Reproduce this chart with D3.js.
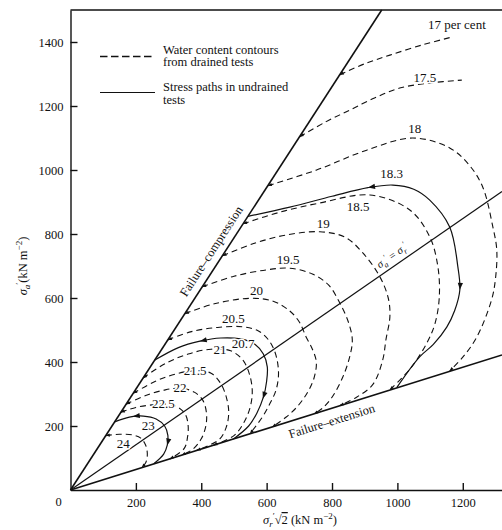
<!DOCTYPE html>
<html>
<head>
<meta charset="utf-8">
<script src="https://cdn.jsdelivr.net/npm/d3@7"></script>
<style>
  body { margin: 0; background: #fff; }
  text { font-family: "Liberation Serif", "Times New Roman", serif; fill: #111; }
</style>
</head>
<body>
<div id="chart"></div>
<script>
// all values in kN/m2 : [sigma_r' * sqrt2 , sigma_a']
const xTicks = [200, 400, 600, 800, 1000, 1200];
const yTicks = [200, 400, 600, 800, 1000, 1200, 1400];

const failureCompression = [[0, 0], [952, 1500]];
const failureExtension = [[0, 0], [1320, 422]];
const isotropicLine = [[0, 0], [1320, 933]];

// water content contours from drained tests (dashed)
const c17 = [[824,1298],[900,1332],[977,1359],[1080,1392],[1169,1416]];
const c175 = [[701,1104],[780,1150],[854,1187],[930,1225],[1007,1256],[1100,1272],[1197,1281]];
const c18 = [[604,951],[753,1000],[906,1062],[1047,1100],[1160,1069],[1220,1015],[1261,947],[1292,822],[1304,750],[1300,660],[1288,594],[1243,478],[1200,415],[1160,372]];
const c185 = [[528,832],[640,868],[763,897],[916,922],[1038,875],[1099,791],[1124,697],[1128,600],[1115,520],[1090,459],[1040,380],[977,313]];
const c19 = [[465,732],[560,770],[660,797],[763,807],[840,790],[895,740],[946,667],[972,600],[977,541],[965,470],[955,406],[925,330],[875,290],[824,264]];
const c195 = [[403,635],[500,668],[600,688],[671,693],[740,675],[790,640],[824,584],[850,525],[862,470],[855,420],[833,353],[800,290],[770,255],[745,238]];
const c20 = [[350,551],[440,582],[549,599],[620,590],[670,560],[700,525],[720,480],[740,440],[752,400],[745,350],[725,305],[695,262],[660,228],[617,197]];
const c205 = [[298,469],[370,495],[450,508],[528,510],[575,497],[605,470],[624,435],[634,395],[636,354],[628,310],[610,270],[585,225],[549,176]];
const c21 = [[222,350],[290,395],[360,425],[430,440],[490,435],[528,405],[548,360],[556,310],[550,260],[530,210],[500,170],[437,140]];
const c215 = [[192,302],[260,340],[320,362],[380,373],[430,365],[460,332],[478,285],[484,240],[476,195],[455,158],[386,124]];
const c22 = [[170,268],[230,295],[290,313],[340,318],[380,305],[405,280],[416,240],[414,200],[400,160],[375,128],[340,109]];
const c225 = [[154,243],[200,258],[250,266],[300,268],[330,258],[352,235],[360,200],[358,165],[348,130],[304,97]];
const c24 = [[108,170],[150,174],[190,172],[215,162],[230,140],[235,110],[230,85],[218,70]];

// stress paths in undrained tests (solid)
const s183 = [[543,855],[671,884],[800,918],[910,945],[986,953],[1050,940],[1099,906],[1160,822],[1185,697],[1191,625],[1175,560],[1151,509],[1110,455],[1068,416],[998,320]];
const s207 = [[258,406],[330,445],[396,465],[460,475],[520,472],[565,455],[590,425],[602,385],[600,340],[590,290],[570,240],[545,200],[498,159]];
const s23 = [[135,213],[180,228],[223,231],[262,222],[288,200],[298,170],[296,140],[285,112],[255,82]];

// arrow positions on the stress paths: [x, y, direction]
const arrows183 = [[910,945,-1],[1191,625,1]];
const arrows207 = [[396,465,-1],[589,285,1]];
const arrows23 = [[191,229,-1],[292,141,1]];

const contourNames = ["17 per cent","17.5","18","18.5","19","19.5","20","20.5","21","21.5","22","22.5","24"];
const contourLabelAt = [[1182,1456],[1084,1288],[1053,1130],[880,885],[773,833],[666,719],[569,625],[498,537],[457,438],[381,373],[335,321],[284,271],[161,146]];
const pathNames = ["18.3","20.7","23"];
const pathLabelAt = [[982,990],[528,458],[238,203]];

const width = 502, height = 530;
const serif = '"Liberation Serif", "Times New Roman", serif';
const x = d3.scaleLinear().domain([0, 1320]).range([70.5, 502]);
const y = d3.scaleLinear().domain([0, 1500]).range([490, 10]);

const svg = d3.select("#chart").append("svg")
  .attr("width", width).attr("height", height);

// axes (ticks point inwards)
const xAxis = svg.append("g")
  .attr("transform", "translate(0," + y(0) + ")")
  .call(d3.axisBottom(x).tickValues(xTicks).tickFormat(d3.format("d"))
    .tickSize(-7).tickSizeOuter(0).tickPadding(8));
const yAxis = svg.append("g")
  .attr("transform", "translate(" + x(0) + ",0)")
  .call(d3.axisLeft(y).tickValues(yTicks).tickFormat(d3.format("d"))
    .tickSize(-7).tickSizeOuter(0).tickPadding(7));
[xAxis, yAxis].forEach(function (g) {
  g.attr("font-family", null).attr("font-size", null);
  g.selectAll("path,line").attr("stroke", "#111").attr("stroke-width", 1.4);
  g.selectAll("text").style("font-family", serif).style("font-size", "12.5px").attr("fill", "#111");
});
svg.append("line")
  .attr("x1", x(0)).attr("x2", x(1320)).attr("y1", y(1500)).attr("y2", y(1500))
  .attr("stroke", "#111").attr("stroke-width", 1.4);
svg.append("text").attr("x", x(0) - 12).attr("y", y(0) + 16)
  .attr("font-size", 12.5).attr("text-anchor", "middle").text("0");

const line = d3.line().x(d => x(d[0])).y(d => y(d[1]));
const curve = d3.line().x(d => x(d[0])).y(d => y(d[1])).curve(d3.curveCatmullRom.alpha(0.5));

// failure lines and isotropic line
[failureCompression, failureExtension].forEach(function (d) {
  svg.append("path").attr("d", line(d)).attr("fill", "none")
    .attr("stroke", "#111").attr("stroke-width", 1.6);
});
svg.append("path").attr("d", line(isotropicLine)).attr("fill", "none")
  .attr("stroke", "#111").attr("stroke-width", 1.2);

function arrowHead(px, py, ang, len, half) {
  svg.append("path")
    .attr("d", "M0,0L" + (-len) + "," + (-half) + "L" + (-len) + "," + half + "Z")
    .attr("transform", "translate(" + px + "," + py + ") rotate(" + ang + ")")
    .attr("fill", "#111");
}

function tangentAt(node, l) {
  const L = node.getTotalLength();
  const a = node.getPointAtLength(Math.max(0, l - 1));
  const b = node.getPointAtLength(Math.min(L, l + 1));
  return Math.atan2(b.y - a.y, b.x - a.x) * 180 / Math.PI;
}

// dashed water content contours
const contours = [c17, c175, c18, c185, c19, c195, c20, c205, c21, c215, c22, c225, c24];
const contourReachesExtension = [false, false, true, true, true, true, true, true, true, true, true, true, true];
contours.forEach(function (pts, i) {
  const p = svg.append("path").attr("d", curve(pts)).attr("fill", "none")
    .attr("stroke", "#111").attr("stroke-width", 1.1).attr("stroke-dasharray", "6,4");
  const node = p.node(), L = node.getTotalLength();
  const s = node.getPointAtLength(0);
  arrowHead(s.x, s.y, tangentAt(node, 2) + 180, 4, 1.6);
  if (contourReachesExtension[i]) {
    const e = node.getPointAtLength(L);
    arrowHead(e.x, e.y, tangentAt(node, L - 2), 4, 1.6);
  }
});

// solid stress paths with arrows
const paths = [s183, s207, s23];
const pathArrows = [arrows183, arrows207, arrows23];
paths.forEach(function (pts, i) {
  const p = svg.append("path").attr("d", curve(pts)).attr("fill", "none")
    .attr("stroke", "#111").attr("stroke-width", 1.2);
  const node = p.node(), L = node.getTotalLength();
  pathArrows[i].forEach(function (a) {
    const tx = x(a[0]), ty = y(a[1]);
    let best = 0, bd = 1e9;
    for (let l = 0; l <= L; l += 0.5) {
      const q = node.getPointAtLength(l);
      const dd = (q.x - tx) * (q.x - tx) + (q.y - ty) * (q.y - ty);
      if (dd < bd) { bd = dd; best = l; }
    }
    const q = node.getPointAtLength(best);
    arrowHead(q.x, q.y, tangentAt(node, best) + (a[2] < 0 ? 180 : 0), 7, 2.6);
  });
});

// contour labels
function label(t, d) {
  svg.append("text").attr("x", x(d[0])).attr("y", y(d[1]))
    .attr("dy", "0.35em").attr("text-anchor", "middle").attr("font-size", 13)
    .attr("stroke", "#fff").attr("stroke-width", 3).attr("paint-order", "stroke")
    .text(t);
}
contourNames.forEach((t, i) => label(t, contourLabelAt[i]));
pathNames.forEach((t, i) => label(t, pathLabelAt[i]));

// text along the lines
function alongLine(seg, at, offset, content, size) {
  const p0 = [x(seg[0][0]), y(seg[0][1])], p1 = [x(seg[1][0]), y(seg[1][1])];
  const ang = Math.atan2(p1[1] - p0[1], p1[0] - p0[0]);
  const px = x(at), py = y(at * (seg[1][1] / seg[1][0]));
  const nx = Math.sin(ang) * offset, ny = -Math.cos(ang) * offset;
  const t = svg.append("text")
    .attr("transform", "translate(" + (px + nx) + "," + (py + ny) + ") rotate(" + (ang * 180 / Math.PI) + ")")
    .attr("text-anchor", "middle").attr("dy", "0.35em").attr("font-size", size);
  content(t);
}
alongLine(failureCompression, 461, 12, t => t.text("Failure\u2013compression"), 12.5);
alongLine(failureExtension, 788, -12, t => t.text("Failure\u2013extension"), 12.5);
alongLine(isotropicLine, 1000, 10, function (t) {
  t.attr("font-style", "italic");
  t.append("tspan").text("\u03c3");
  t.append("tspan").attr("font-size", 8).attr("dy", 3).text("a");
  t.append("tspan").attr("font-size", 8).attr("dy", -7).text("\u2032");
  t.append("tspan").attr("dy", 4).text(" = \u03c3");
  t.append("tspan").attr("font-size", 8).attr("dy", 3).text("r");
  t.append("tspan").attr("font-size", 8).attr("dy", -7).text("\u2032");
}, 11);

// legend
svg.append("line").attr("x1", 100).attr("x2", 155).attr("y1", 56.5).attr("y2", 56.5)
  .attr("stroke", "#111").attr("stroke-width", 1.4).attr("stroke-dasharray", "7.5,3.5");
svg.append("line").attr("x1", 100).attr("x2", 155).attr("y1", 92.5).attr("y2", 92.5)
  .attr("stroke", "#111").attr("stroke-width", 1);
[["Water content contours", 53.5], ["from drained tests", 66], ["Stress paths in undrained", 91], ["tests", 104]]
  .forEach(function (d) {
    svg.append("text").attr("x", 163).attr("y", d[1]).attr("font-size", 12.5).text(d[0]);
  });

// axis titles
const xt = svg.append("text").attr("x", 300).attr("y", 524).attr("text-anchor", "middle").attr("font-size", 12.5);
xt.append("tspan").attr("font-style", "italic").text("\u03c3");
xt.append("tspan").attr("font-size", 9).attr("dy", 3).attr("font-style", "italic").text("r");
xt.append("tspan").attr("font-size", 9).attr("dy", -8).text("\u2032");
xt.append("tspan").attr("dy", 5).text("\u221a");
xt.append("tspan").attr("text-decoration", "overline").text("2");
xt.append("tspan").text("  (kN m");
xt.append("tspan").attr("font-size", 9).attr("dy", -5).text("\u22122");
xt.append("tspan").attr("dy", 5).text(")");

const yt = svg.append("text").attr("transform", "translate(27,266) rotate(-90)")
  .attr("text-anchor", "middle").attr("font-size", 12.5);
yt.append("tspan").attr("font-style", "italic").text("\u03c3");
yt.append("tspan").attr("font-size", 9).attr("dy", 3).attr("font-style", "italic").text("a");
yt.append("tspan").attr("font-size", 9).attr("dy", -8).text("\u2032");
yt.append("tspan").attr("dy", 5).text("(kN m");
yt.append("tspan").attr("font-size", 9).attr("dy", -5).text("\u22122");
yt.append("tspan").attr("dy", 5).text(")");
</script>
</body>
</html>
